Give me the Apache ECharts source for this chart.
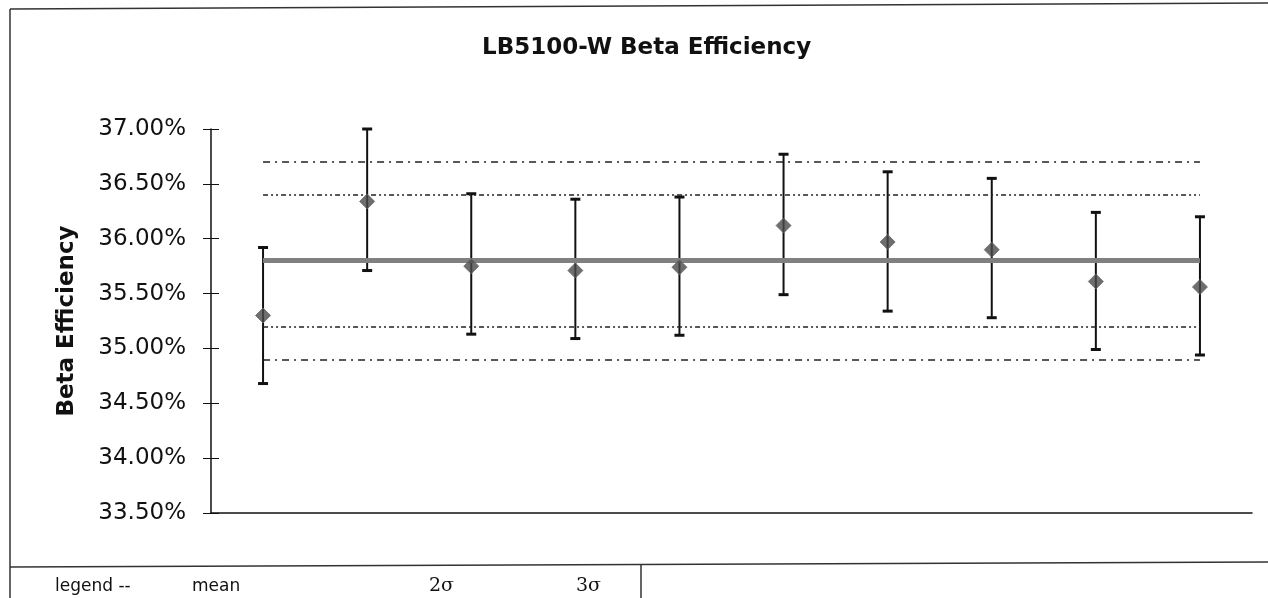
<!DOCTYPE html>
<html>
<head>
<meta charset="utf-8">
<script src="https://cdn.jsdelivr.net/npm/echarts@6/dist/echarts.min.js"></script>
<style>
  html, body { margin: 0; padding: 0; background: #fff; }
  #chart { width: 1268px; height: 598px; }
</style>
</head>
<body>
<div id="chart"></div>
<script>
// runs (x categories have no labels in the original)
const runs = ['1', '2', '3', '4', '5', '6', '7', '8', '9', '10']
// beta efficiency in %
const efficiency = [35.30, 36.34, 35.75, 35.71, 35.74, 36.12, 35.97, 35.90, 35.61, 35.56]
const errUpper = [35.92, 37.00, 36.41, 36.36, 36.38, 36.77, 36.61, 36.55, 36.24, 36.20]
const errLower = [34.68, 35.71, 35.13, 35.09, 35.12, 35.49, 35.34, 35.28, 34.99, 34.94]
// control lines
const meanValue = 35.80
const limits2s = [35.20, 36.40]
const limits3s = [34.90, 36.70]
// y axis range
const yMin = 33.5
const yMax = 37
const yStep = 0.5

const FONT = 'DejaVu Sans'
const chart = echarts.init(document.getElementById('chart'))

function renderErrorBar(params, api) {
  const lo = api.coord([api.value(0), api.value(1)])
  const hi = api.coord([api.value(0), api.value(2)])
  const cap = 5
  const bar = { stroke: '#111', lineWidth: 2 }
  const capStyle = { stroke: '#111', lineWidth: 3 }
  return {
    type: 'group',
    children: [
      { type: 'line', shape: { x1: hi[0], y1: hi[1], x2: lo[0], y2: lo[1] }, style: bar },
      { type: 'line', shape: { x1: hi[0] - cap, y1: hi[1], x2: hi[0] + cap, y2: hi[1] }, style: capStyle },
      { type: 'line', shape: { x1: lo[0] - cap, y1: lo[1], x2: lo[0] + cap, y2: lo[1] }, style: capStyle },
    ],
  }
}

function spanLine(value, style) {
  return [
    { coord: [0, value], lineStyle: style },
    { coord: [runs.length - 1, value] },
  ]
}

const dash3 = { color: '#222', width: 1.5, type: [7, 5, 2, 5] }
const dash2 = { color: '#222', width: 1.5, type: [5, 3, 2, 3, 2, 3] }

const option = {
  backgroundColor: '#fff',
  animation: false,
  title: {
    text: 'LB5100-W Beta Efficiency',
    left: 482,
    top: 37,
    padding: 0,
    textStyle: { fontFamily: FONT, fontSize: 23, fontWeight: 'bold', color: '#111' },
  },
  grid: { left: 211, top: 129, width: 1041, height: 384 },
  xAxis: {
    type: 'category',
    data: runs,
    boundaryGap: true,
    axisLine: { onZero: false, lineStyle: { color: '#111', width: 1.5 } },
    axisTick: { show: false },
    axisLabel: { show: false },
    splitLine: { show: false },
  },
  yAxis: [
    {
      type: 'value',
      min: yMin,
      max: yMax,
      interval: yStep,
      name: 'Beta Efficiency',
      nameLocation: 'middle',
      nameGap: 132,
      nameTextStyle: { fontFamily: FONT, fontSize: 23, fontWeight: 'bold', color: '#111' },
      axisLine: { show: true, lineStyle: { color: '#111', width: 1.5 } },
      axisTick: { show: true, length: 8, lineStyle: { color: '#111' } },
      axisLabel: {
        margin: 25,
        fontFamily: FONT,
        fontSize: 23,
        color: '#111',
        formatter: v => v.toFixed(2) + '%',
      },
      splitLine: { show: false },
    },
    {
      // right half of the crossing tick marks
      type: 'value',
      min: yMin,
      max: yMax,
      interval: yStep,
      position: 'left',
      offset: -8,
      axisLine: { show: false },
      axisTick: { show: true, length: 8, lineStyle: { color: '#111' } },
      axisLabel: { show: false },
      splitLine: { show: false },
    },
  ],
  series: [
    {
      name: 'error',
      type: 'custom',
      z: 2,
      renderItem: renderErrorBar,
      encode: { x: 0, y: [1, 2] },
      data: runs.map((r, i) => [i, errLower[i], errUpper[i]]),
      markLine: {
        z: 5,
        silent: true,
        symbol: 'none',
        label: { show: false },
        data: [
          spanLine(limits3s[1], dash3),
          spanLine(limits2s[1], dash2),
          spanLine(limits2s[0], dash2),
          spanLine(limits3s[0], dash3),
          spanLine(meanValue, { color: '#808080', width: 5, type: 'solid' }),
        ],
      },
    },
    {
      name: 'efficiency',
      type: 'scatter',
      z: 6,
      symbol: 'diamond',
      symbolSize: [15, 15],
      itemStyle: { color: '#4a4a4a', borderColor: '#666', borderWidth: 1 },
      data: efficiency,
    },
    {
      // keeps the second y axis bound to the grid
      name: 'ticks',
      type: 'line',
      yAxisIndex: 1,
      data: [],
      silent: true,
    },
  ],
  graphic: [
    // scanned frame of the worksheet (slightly tilted)
    { type: 'line', shape: { x1: 10, y1: 9, x2: 1268, y2: 3 }, style: { stroke: '#333', lineWidth: 1.5 } },
    { type: 'line', shape: { x1: 10, y1: 9, x2: 10, y2: 598 }, style: { stroke: '#333', lineWidth: 1.5 } },
    { type: 'line', shape: { x1: 10, y1: 567, x2: 1268, y2: 562 }, style: { stroke: '#333', lineWidth: 1.5 } },
    { type: 'line', shape: { x1: 641, y1: 565, x2: 641, y2: 598 }, style: { stroke: '#333', lineWidth: 1.5 } },
    { type: 'text', x: 55, y: 587, style: { text: 'legend --', font: '17px "DejaVu Sans"', fill: '#111', verticalAlign: 'middle' } },
    { type: 'text', x: 192, y: 587, style: { text: 'mean', font: '17px "DejaVu Sans"', fill: '#111', verticalAlign: 'middle' } },
    { type: 'text', x: 429, y: 586, style: { text: '2σ', font: '19px "DejaVu Serif"', fill: '#111', verticalAlign: 'middle' } },
    { type: 'text', x: 576, y: 586, style: { text: '3σ', font: '19px "DejaVu Serif"', fill: '#111', verticalAlign: 'middle' } },
  ],
}

chart.setOption(option)
window.addEventListener('resize', () => chart.resize())
</script>
</body>
</html>
